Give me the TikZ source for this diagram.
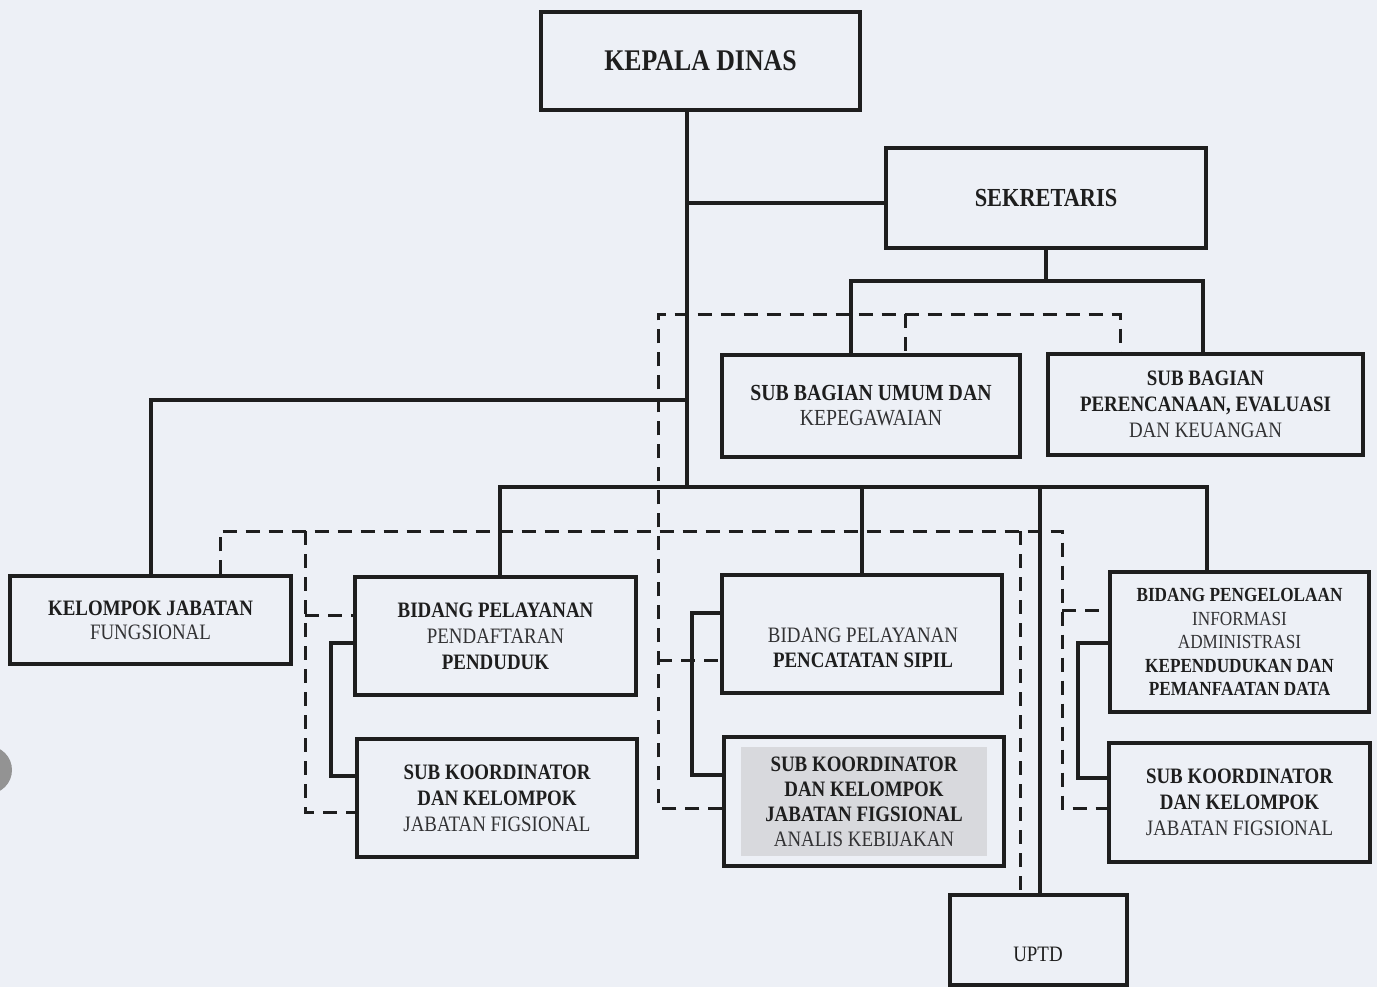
\documentclass[tikz,border=0pt]{standalone}
\usepackage{fontspec}
\setmainfont{Liberation Serif}[FakeStretch=0.86]
\definecolor{bg}{RGB}{237,240,246}
\definecolor{ink}{RGB}{30,30,30}
\definecolor{lightink}{RGB}{50,50,52}
\definecolor{greyfill}{RGB}{216,217,221}
\newcommand\lightline[1]{{\mdseries\color{lightink}#1}}
\tikzset{
  orgbox/.style={draw=ink, line width=3.2pt, inner sep=0pt, align=center, text=ink,
    font=\bfseries\fontsize{22}{26}\selectfont},
  txt/.style={inner sep=0pt, align=center, text=ink, font=\bfseries\fontsize{22}{25}\selectfont},
  conn/.style={draw=ink, line width=3.2pt},
  dconn/.style={draw=ink, line width=3pt, dash pattern=on 14pt off 9pt},
}
\begin{document}
\begin{tikzpicture}[x=1pt,y=-1pt]
\fill[bg] (0,0) rectangle (1377,987);
\useasboundingbox (0,0) rectangle (1377,987);
\begin{scope}
  \clip (0,0) rectangle (1377,987);
  \fill[gray!85] (-12,770) circle (24);
\end{scope}

% boxes
\node[orgbox, minimum width=319pt, minimum height=98pt, font=\bfseries\fontsize{30}{34}\selectfont] (kd) at (700.5,61) {KEPALA DINAS};
\node[orgbox, minimum width=320pt, minimum height=100pt, font=\bfseries\fontsize{26}{30}\selectfont] (sek) at (1046,198) {SEKRETARIS};
\node[orgbox, minimum width=298pt, minimum height=102pt, font=\bfseries\fontsize{23}{25}\selectfont] (sbu) at (871,406) {SUB BAGIAN UMUM DAN\\\lightline{KEPEGAWAIAN}};
\node[orgbox, minimum width=315pt, minimum height=101pt] (sbp) at (1205.5,404.5) {SUB BAGIAN\\PERENCANAAN, EVALUASI\\\lightline{DAN KEUANGAN}};
\node[orgbox, minimum width=281pt, minimum height=88pt, font=\bfseries\fontsize{22}{24}\selectfont] (kjf) at (150.5,620) {KELOMPOK JABATAN\\\lightline{FUNGSIONAL}};
\node[orgbox, minimum width=281pt, minimum height=118pt] (bpp) at (495.5,636) {BIDANG PELAYANAN\\\lightline{PENDAFTARAN}\\PENDUDUK};
\node[orgbox, minimum width=280pt, minimum height=118pt] (skl) at (497,798) {SUB KOORDINATOR\\DAN KELOMPOK\\\lightline{JABATAN FIGSIONAL}};
\node[orgbox, minimum width=280pt, minimum height=118pt] (bpc) at (862,634) {};
\node[txt] (bpct) at (863,648) {\lightline{BIDANG PELAYANAN}\\PENCATATAN SIPIL};
\fill[greyfill] (741,747) rectangle (987,856);
\node[orgbox, minimum width=280pt, minimum height=129pt, font=\bfseries\fontsize{22}{25}\selectfont] (skm) at (864,801.5) {SUB KOORDINATOR\\DAN KELOMPOK\\JABATAN FIGSIONAL\\\lightline{ANALIS KEBIJAKAN}};
\node[orgbox, minimum width=259pt, minimum height=140pt, font=\bfseries\fontsize{20}{23.5}\selectfont] (bpi) at (1239.5,642) {BIDANG PENGELOLAAN\\\lightline{INFORMASI}\\\lightline{ADMINISTRASI}\\KEPENDUDUKAN DAN\\PEMANFAATAN DATA};
\node[orgbox, minimum width=261pt, minimum height=119pt] (skr) at (1239.5,802.5) {SUB KOORDINATOR\\DAN KELOMPOK\\\lightline{JABATAN FIGSIONAL}};
\node[orgbox, minimum width=177pt, minimum height=90pt] (uptd) at (1038.5,940) {};
\node[txt, font=\mdseries\fontsize{22}{24}\selectfont] (uptdt) at (1038,954) {UPTD};

% solid connectors
\coordinate (hub) at (687,487);
\coordinate (sekj) at (687,203);
\coordinate (kjfj) at (687,400);
\coordinate (kjfc) at (151,400);
\coordinate (sekbar) at (1046,281);
\coordinate (sbuj) at (851,281);
\coordinate (sbpj) at (1203,281);
\coordinate (barL) at (500,487);
\coordinate (barR) at (1207,487);
\coordinate (uptdj) at (1040,487);

\draw[conn] (kd.south -| hub) -- (hub);
\draw[conn] (sekj) -- (sekj -| sek.west);
\draw[conn] (sek.south) -- (sekbar);
\draw[conn] (sbu.north -| sbuj) -- (sbuj) -- (sbpj) -- (sbp.north -| sbpj);
\draw[conn] (kjfj) -- (kjfc) -- (kjf.north -| kjfc);
\draw[conn] (bpp.north -| barL) -- (barL) -- (barR) -- (bpi.north -| barR);
\draw[conn] (bpc.north) -- (bpc.north |- hub);
\draw[conn] (uptdj) -- (uptd.north -| uptdj);

% brackets
\draw[conn] (bpp.west |- 0,643) -| (331,776) -- (skl.west |- 0,776);
\draw[conn] (bpc.west |- 0,613) -| (692,775) -- (skm.west |- 0,775);
\draw[conn] (bpi.west |- 0,643) -| (1078,778) -- (skr.west |- 0,778);

% dashed connectors (upper)
\coordinate (dA) at (658,314);
\coordinate (dAm) at (905,314);
\coordinate (dAr) at (1120,314);
\coordinate (dA2) at (658,660);
\draw[dconn] (skm.west |- 0,808) -| (dA) -- (dAr) -- (sbp.north -| dAr);
\draw[dconn] (dAm) -- (sbu.north -| dAm);
\draw[dconn] (dA2) -- (bpc.west |- dA2);

% dashed connectors (lower)
\coordinate (dB1) at (220,531);
\coordinate (dB2) at (1062,531);
\coordinate (dB3) at (1062,610);
\coordinate (dL) at (305,531);
\coordinate (dL2) at (305,615);
\coordinate (dU) at (1020,531);
\draw[dconn] (kjf.north -| dB1) -- (dB1) -- (dB2) |- (skr.west |- 0,808);
\draw[dconn] (dB3) -- (bpi.west |- dB3);
\draw[dconn] (dL) |- (skl.west |- 0,812);
\draw[dconn] (dL2) -- (bpp.west |- dL2);
\draw[dconn] (dU) -- (uptd.north -| dU);
\end{tikzpicture}
\end{document}
